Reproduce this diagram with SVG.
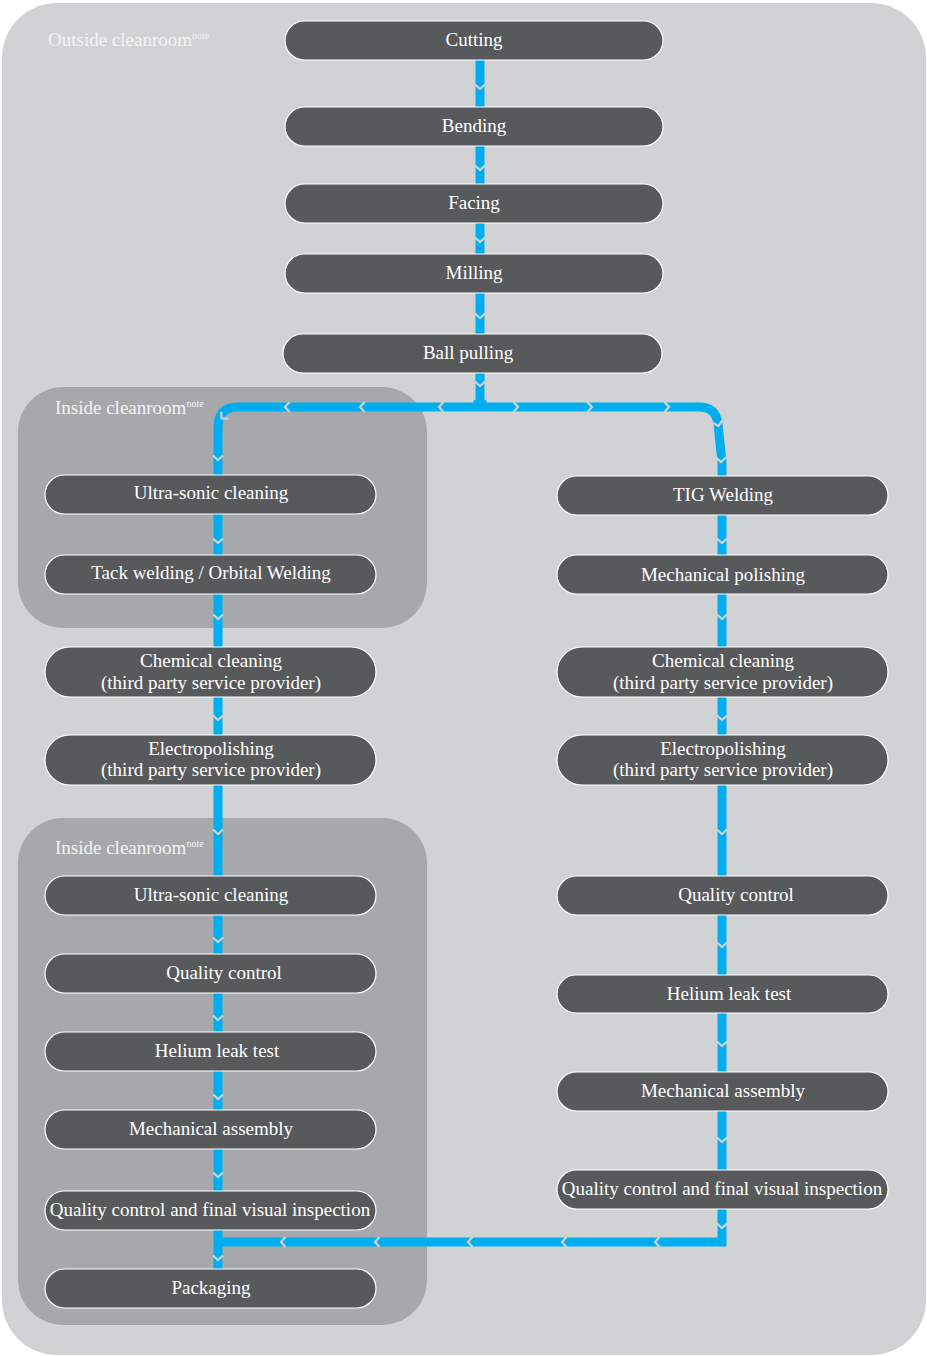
<svg xmlns="http://www.w3.org/2000/svg" xmlns:xlink="http://www.w3.org/1999/xlink" width="927" height="1356" viewBox="0 0 927 1356">
<style>
.node rect{fill:#58595b;stroke:#ffffff;stroke-width:1.2}
.node text{fill:#ffffff;font-family:"Liberation Serif","Times New Roman",serif;font-size:19px;text-anchor:middle}
.zone{font-family:"Liberation Serif","Times New Roman",serif;font-size:19px;fill:#f4f4f4}
.sup{font-size:10px}
.flow{fill:none;stroke:#00aeef;stroke-width:9}
.chev{fill:none;stroke:#d1d2d4;stroke-width:2.2}
</style>
<defs>
<path id="cd" class="chev" d="M-5,-2.5 L0,2 L5,-2.5"/>
<path id="cl" class="chev" d="M2.5,-5 L-2,0 L2.5,5"/>
<path id="cr" class="chev" d="M-2.5,-5 L2,0 L-2.5,5"/>
</defs>
<rect id="outside" x="2" y="3" width="924" height="1352" rx="55" fill="#d1d2d4"/>
<text class="zone" x="48" y="46">Outside cleanroom<tspan class="sup" dy="-7">note</tspan></text>
<rect id="inside1" x="18" y="387" width="409" height="241" rx="45" fill="#a7a8ab"/>
<text class="zone" x="55" y="414">Inside cleanroom<tspan class="sup" dy="-7">note</tspan></text>
<rect id="inside2" x="18" y="818" width="409" height="507" rx="45" fill="#a7a8ab"/>
<text class="zone" x="55" y="854">Inside cleanroom<tspan class="sup" dy="-7">note</tspan></text>

<g id="connectors">
<path class="flow" d="M480 60 V107 M480 146 V184 M480 223 V254 M480 293 V334"/>
<path class="flow" d="M480 373 V407"/>
<path d="M474 400 L486 400 L489 411 L471 411 Z" fill="#00aeef"/>
<path class="flow" d="M480 407 H238 Q218 407 218 427 V1269"/>
<path class="flow" d="M480 407 H699 Q716 407 718 424 L722 462 V1242 H218"/>
<use href="#cd" x="480" y="87"/>
<use href="#cd" x="480" y="168"/>
<use href="#cd" x="480" y="240"/>
<use href="#cd" x="480" y="316"/>
<use href="#cd" x="480" y="384"/>
<use href="#cl" x="287" y="407"/>
<use href="#cl" x="362" y="407"/>
<use href="#cl" x="441" y="407"/>
<use href="#cr" x="516" y="407"/>
<use href="#cr" x="590" y="407"/>
<use href="#cr" x="667" y="407"/>
<g transform="translate(223 417) rotate(45)"><use href="#cd"/></g>
<g transform="translate(718 424) rotate(-12)"><use href="#cd"/></g>
<use href="#cd" x="218" y="458"/>
<use href="#cd" x="721" y="460"/>
<use href="#cd" x="218" y="541"/>
<use href="#cd" x="218" y="617"/>
<use href="#cd" x="218" y="718"/>
<use href="#cd" x="218" y="832"/>
<use href="#cd" x="218" y="940"/>
<use href="#cd" x="218" y="1018"/>
<use href="#cd" x="218" y="1097"/>
<use href="#cd" x="218" y="1175"/>
<use href="#cd" x="218" y="1258"/>
<use href="#cd" x="722" y="541"/>
<use href="#cd" x="722" y="617"/>
<use href="#cd" x="722" y="718"/>
<use href="#cd" x="722" y="832"/>
<use href="#cd" x="722" y="945"/>
<use href="#cd" x="722" y="1044"/>
<use href="#cd" x="722" y="1140"/>
<use href="#cd" x="722" y="1226"/>
<use href="#cl" x="283" y="1242"/>
<use href="#cl" x="377" y="1242"/>
<use href="#cl" x="470" y="1242"/>
<use href="#cl" x="564" y="1242"/>
<use href="#cl" x="657" y="1242"/>
</g>

<g id="n-cutting" class="node"><rect x="285" y="21" width="378" height="39" rx="19.5"/><text x="474" y="46">Cutting</text></g>
<g id="n-bending" class="node"><rect x="285" y="107" width="378" height="39" rx="19.5"/><text x="474" y="132">Bending</text></g>
<g id="n-facing" class="node"><rect x="285" y="184" width="378" height="39" rx="19.5"/><text x="474" y="209">Facing</text></g>
<g id="n-milling" class="node"><rect x="285" y="254" width="378" height="39" rx="19.5"/><text x="474" y="279">Milling</text></g>
<g id="n-ball" class="node"><rect x="283" y="334" width="379" height="39" rx="19.5"/><text x="468" y="359">Ball pulling</text></g>

<g id="l-ultra1" class="node"><rect x="45" y="475" width="331" height="39" rx="19.5"/><text x="211" y="499">Ultra-sonic cleaning</text></g>
<g id="l-tack" class="node"><rect x="45" y="555" width="331" height="39" rx="19.5"/><text x="211" y="579">Tack welding / Orbital Welding</text></g>
<g id="l-chem" class="node"><rect x="45" y="647" width="331" height="50" rx="25"/><text x="211" y="667">Chemical cleaning</text><text x="211" y="689">(third party service provider)</text></g>
<g id="l-electro" class="node"><rect x="45" y="735" width="331" height="50" rx="25"/><text x="211" y="755">Electropolishing</text><text x="211" y="776">(third party service provider)</text></g>
<g id="l-ultra2" class="node"><rect x="45" y="876" width="331" height="39" rx="19.5"/><text x="211" y="901">Ultra-sonic cleaning</text></g>
<g id="l-qc" class="node"><rect x="45" y="954" width="331" height="39" rx="19.5"/><text x="224" y="979">Quality control</text></g>
<g id="l-helium" class="node"><rect x="45" y="1032" width="331" height="39" rx="19.5"/><text x="217" y="1057">Helium leak test</text></g>
<g id="l-mech" class="node"><rect x="45" y="1110" width="331" height="39" rx="19.5"/><text x="211" y="1135">Mechanical assembly</text></g>
<g id="l-qcfinal" class="node"><rect x="45" y="1191" width="331" height="39" rx="19.5"/><text x="210" y="1216">Quality control and final visual inspection</text></g>
<g id="l-pack" class="node"><rect x="45" y="1269" width="331" height="39" rx="19.5"/><text x="211" y="1294">Packaging</text></g>

<g id="r-tig" class="node"><rect x="557" y="476" width="331" height="39" rx="19.5"/><text x="723" y="501">TIG Welding</text></g>
<g id="r-polish" class="node"><rect x="557" y="555" width="331" height="39" rx="19.5"/><text x="723" y="581">Mechanical polishing</text></g>
<g id="r-chem" class="node"><rect x="557" y="647" width="331" height="50" rx="25"/><text x="723" y="667">Chemical cleaning</text><text x="723" y="689">(third party service provider)</text></g>
<g id="r-electro" class="node"><rect x="557" y="735" width="331" height="50" rx="25"/><text x="723" y="755">Electropolishing</text><text x="723" y="776">(third party service provider)</text></g>
<g id="r-qc" class="node"><rect x="557" y="876" width="331" height="39" rx="19.5"/><text x="736" y="901">Quality control</text></g>
<g id="r-helium" class="node"><rect x="557" y="975" width="331" height="38" rx="19"/><text x="729" y="1000">Helium leak test</text></g>
<g id="r-mech" class="node"><rect x="557" y="1072" width="331" height="39" rx="19.5"/><text x="723" y="1097">Mechanical assembly</text></g>
<g id="r-qcfinal" class="node"><rect x="557" y="1170" width="331" height="39" rx="19.5"/><text x="722" y="1195">Quality control and final visual inspection</text></g>
</svg>
